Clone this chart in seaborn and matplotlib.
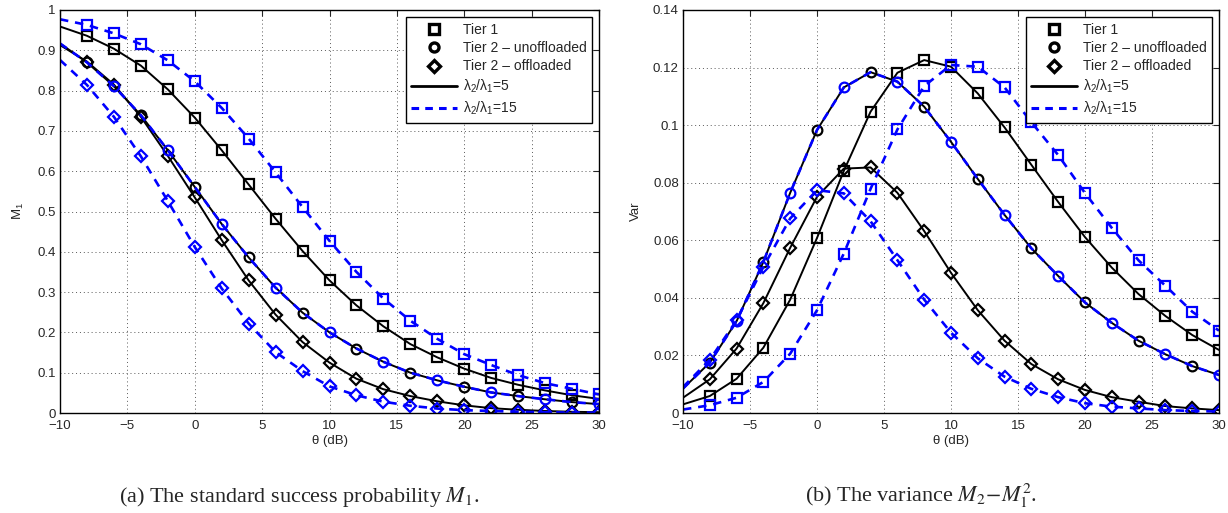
import numpy as np
import pandas as pd
import seaborn as sns
import matplotlib.pyplot as plt
from matplotlib.lines import Line2D
from matplotlib.ticker import FuncFormatter

# theta grid (dB), values every 2 dB
theta = [-10, -8, -6, -4, -2, 0, 2, 4, 6, 8, 10, 12, 14, 16, 18, 20, 22, 24, 26, 28, 30]

# (a) success probability M1
m1_tier1_5 = [0.959, 0.936, 0.904, 0.862, 0.803, 0.733, 0.652, 0.567, 0.482, 0.402, 0.329,
              0.267, 0.215, 0.171, 0.138, 0.110, 0.087, 0.070, 0.056, 0.044, 0.035]
m1_tier1_15 = [0.977, 0.963, 0.942, 0.915, 0.875, 0.823, 0.757, 0.681, 0.597, 0.511, 0.427,
               0.350, 0.284, 0.229, 0.184, 0.146, 0.119, 0.094, 0.074, 0.060, 0.046]
m1_unoff = [0.917, 0.870, 0.811, 0.739, 0.652, 0.561, 0.469, 0.386, 0.311, 0.249, 0.200,
            0.160, 0.127, 0.100, 0.081, 0.065, 0.051, 0.042, 0.034, 0.027, 0.022]
m1_off_5 = [0.913, 0.872, 0.815, 0.735, 0.638, 0.535, 0.429, 0.329, 0.244, 0.176, 0.125,
            0.085, 0.059, 0.042, 0.029, 0.019, 0.012, 0.008, 0.005, 0.003, 0.002]
m1_off_15 = [0.876, 0.814, 0.735, 0.637, 0.526, 0.412, 0.309, 0.222, 0.151, 0.104, 0.066,
             0.044, 0.028, 0.018, 0.011, 0.007, 0.005, 0.003, 0.002, 0.001, 0.001]

# (b) variance M2 - M1^2
var_tier1_5 = [0.0030, 0.0059, 0.0119, 0.0227, 0.0394, 0.0608, 0.0841, 0.1047, 0.1182, 0.1226, 0.1203,
               0.1110, 0.0992, 0.0862, 0.0733, 0.0611, 0.0505, 0.0413, 0.0337, 0.0271, 0.0219]
var_tier1_15 = [0.0012, 0.0027, 0.0053, 0.0108, 0.0206, 0.0357, 0.0554, 0.0779, 0.0985, 0.1136, 0.1209,
                0.1203, 0.1131, 0.1010, 0.0896, 0.0764, 0.0643, 0.0530, 0.0442, 0.0352, 0.0286]
var_unoff = [0.0085, 0.0175, 0.0319, 0.0525, 0.0765, 0.0983, 0.1131, 0.1184, 0.1151, 0.1064, 0.0942,
             0.0813, 0.0688, 0.0572, 0.0476, 0.0384, 0.0313, 0.0251, 0.0204, 0.0163, 0.0132]
var_off_5 = [0.0053, 0.0117, 0.0224, 0.0382, 0.0574, 0.0751, 0.0849, 0.0853, 0.0765, 0.0632, 0.0487,
             0.0357, 0.0251, 0.0170, 0.0117, 0.0080, 0.0055, 0.0039, 0.0024, 0.0016, 0.0010]
var_off_15 = [0.0090, 0.0185, 0.0322, 0.0508, 0.0676, 0.0774, 0.0763, 0.0666, 0.0531, 0.0394, 0.0279,
              0.0190, 0.0126, 0.0084, 0.0055, 0.0034, 0.0022, 0.0016, 0.0010, 0.0007, 0.0005]

legend_labels = ['Tier 1', 'Tier 2 \u2013 unoffloaded', 'Tier 2 \u2013 offloaded',
                 r'$\mathregular{\lambda_2/\lambda_1}$=5', r'$\mathregular{\lambda_2/\lambda_1}$=15']

sns.set_style('white')
plt.rcParams['font.family'] = ['Liberation Sans', 'DejaVu Sans']
plt.rcParams['mathtext.fontset'] = 'stix'

BLUE = '#0000ff'
solid = dict(color='black', linestyle='-', linewidth=1.4)
dashed = dict(color=BLUE, linestyle=(0, (3.2, 2.6)), linewidth=1.9)
marker_size = {'s': 7.5, 'o': 7.0, 'D': 6.3}


def draw(ax, t1_5, t1_15, unoff, off_5, off_15):
    every = slice(1, None)
    series = [
        (t1_5, solid, 's', every),
        (off_5, solid, 'D', every),
        (unoff, solid, 'o', slice(1, None, 2)),
        (t1_15, dashed, 's', every),
        (off_15, dashed, 'D', every),
        (unoff, dashed, 'o', slice(2, None, 2)),
    ]
    for vals, style, mk, me in series:
        df = pd.DataFrame({'theta': theta, 'val': vals})
        sns.lineplot(data=df, x='theta', y='val', ax=ax, errorbar=None, marker=mk,
                     markevery=me, markersize=marker_size[mk], markerfacecolor='none',
                     markeredgecolor=style['color'], markeredgewidth=1.6, **style)

    ax.set_xlim(-10, 30)
    ax.set_xticks([-10, -5, 0, 5, 10, 15, 20, 25, 30])
    ax.grid(True, color='0.35', linestyle=(0, (1, 3)), linewidth=0.7)
    ax.tick_params(direction='in', top=True, right=True, length=4, width=0.8,
                   labelsize=9.5)
    ax.tick_params(axis='x', pad=5)
    ax.tick_params(axis='y', pad=3)
    for sp in ax.spines.values():
        sp.set_color('black')
        sp.set_linewidth(1.0)
    ax.yaxis.set_major_formatter(FuncFormatter(lambda v, p: f'{v:g}'))
    ax.set_xlabel('\u03b8 (dB)', fontsize=9.5, labelpad=2)

    handles = [
        Line2D([], [], color='black', linestyle='none', marker='s', markersize=7,
               markerfacecolor='none', markeredgewidth=2.4),
        Line2D([], [], color='black', linestyle='none', marker='o', markersize=6.5,
               markerfacecolor='none', markeredgewidth=2.4),
        Line2D([], [], color='black', linestyle='none', marker='D', markersize=6,
               markerfacecolor='none', markeredgewidth=2.4),
        Line2D([], [], color='black', linestyle='-', linewidth=2.0),
        Line2D([], [], color=BLUE, linestyle=(0, (2.5, 2.0)), linewidth=2.2),
    ]
    leg = ax.legend(handles, legend_labels, loc='upper right', fontsize=10,
                    handlelength=3.3, handletextpad=0.4, labelspacing=0.32,
                    borderpad=0.4, borderaxespad=0.5, fancybox=False,
                    framealpha=1, edgecolor='black')
    leg.get_frame().set_linewidth(1.0)


fig = plt.figure(figsize=(12.28, 5.13), dpi=100)
ax1 = fig.add_axes([60 / 1228, 100 / 513, 539 / 1228, 403 / 513])
ax2 = fig.add_axes([683 / 1228, 100 / 513, 536 / 1228, 403 / 513])

draw(ax1, m1_tier1_5, m1_tier1_15, m1_unoff, m1_off_5, m1_off_15)
ax1.set_ylim(0, 1)
ax1.set_yticks(np.linspace(0, 1, 11))
ax1.set_ylabel(r'$\mathregular{M_1}$', fontsize=9.5, labelpad=8)

draw(ax2, var_tier1_5, var_tier1_15, var_unoff, var_off_5, var_off_15)
ax2.set_ylim(0, 0.14)
ax2.set_yticks([0, 0.02, 0.04, 0.06, 0.08, 0.1, 0.12, 0.14])
ax2.set_ylabel('Var', fontsize=9.5, labelpad=8)

fig.text(299 / 1228, 11 / 513, r'(a) The standard success probability $M_1$.',
         ha='center', va='baseline', fontsize=16, family='Liberation Serif')
fig.text(921 / 1228, 11 / 513, r'(b) The variance $M_2\!-\!M_1^2$.',
         ha='center', va='baseline', fontsize=16, family='Liberation Serif')

fig.savefig('out.png', dpi=100)
